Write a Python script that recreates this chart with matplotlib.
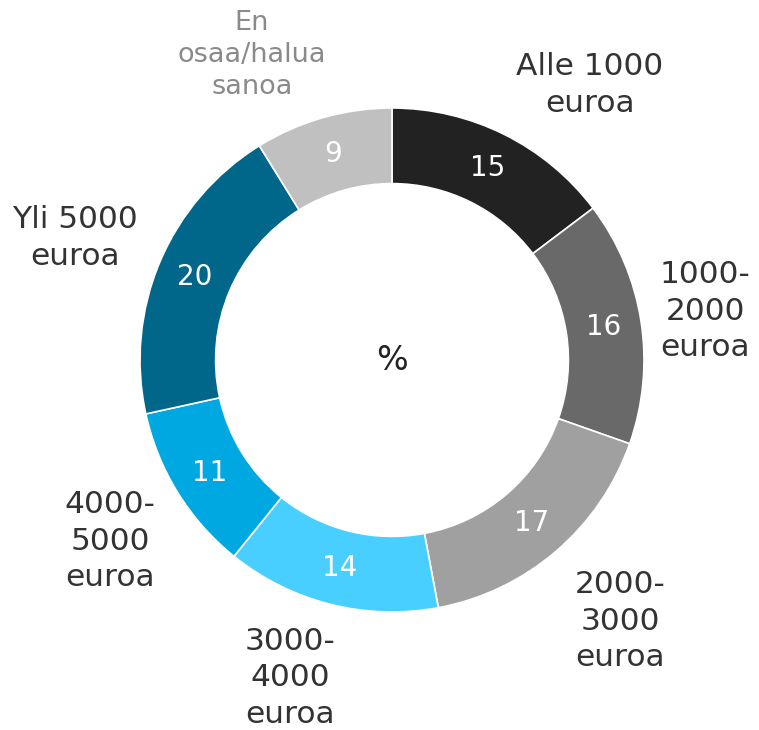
import numpy as np
import matplotlib.pyplot as plt

categories = ["Alle 1000\neuroa", "1000-\n2000\neuroa", "2000-\n3000\neuroa",
              "3000-\n4000\neuroa", "4000-\n5000\neuroa", "Yli 5000\neuroa",
              "En\nosaa/halua\nsanoa"]
values = [15, 16, 17, 14, 11, 20, 9]
colors = ["#222222", "#696969", "#a0a0a0", "#48cfff", "#00a8e2", "#00678a", "#c0c0c0"]
label_colors = ["#333333"] * 6 + ["#8a8a8a"]

# label centres in pixels (figure coords, from top-left)
label_px = [(590, 85), (705, 311), (620, 621), (290, 678), (110, 541), (75, 238), (252, 55)]

W, H = 759, 730
cx, cy, R = 392, 360, 252

fig = plt.figure(figsize=(W / 100, H / 100), dpi=100)
ax = fig.add_axes([0, 0, 1, 1])

wedges, _ = ax.pie(values, colors=colors, startangle=90, counterclock=False,
                   radius=1.0, wedgeprops=dict(width=0.30, edgecolor="white", linewidth=1.2))

ax.set_xlim(-cx / R, (W - cx) / R)
ax.set_ylim(-(H - cy) / R, cy / R)
ax.set_aspect("equal")
ax.axis("off")

for w, v in zip(wedges, values):
    ang = np.deg2rad((w.theta1 + w.theta2) / 2)
    r = 0.85
    ax.text(r * np.cos(ang), r * np.sin(ang), str(v), ha="center", va="center",
            color="white", fontsize=20)

for lab, (px, py), c in zip(categories, label_px, label_colors):
    grey = c == "#8a8a8a"
    fs = 19.5 if grey else 22.5
    fig.text(px / W, 1 - py / H, lab, ha="center", va="center", color=c,
             fontsize=fs, linespacing=1.32, multialignment="center")

ax.text(0, 0, "%", ha="center", va="center", fontsize=24, color="#222222")

fig.savefig("out.png", dpi=100, facecolor="white")
